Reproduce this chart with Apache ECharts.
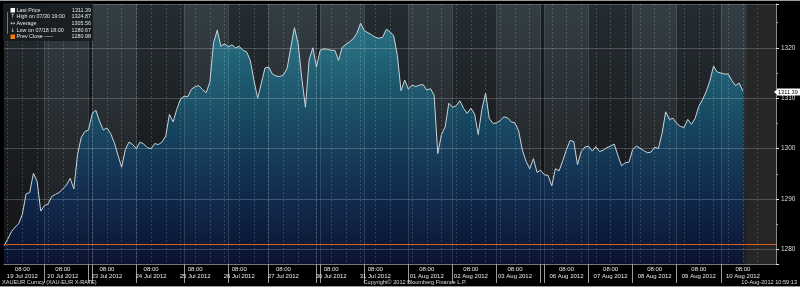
<!DOCTYPE html>
<html><head><meta charset="utf-8">
<script src="https://cdn.jsdelivr.net/npm/echarts@6/dist/echarts.min.js"></script>
<style>html,body{margin:0;padding:0;background:#000;}#c{width:800px;height:287px;}</style>
</head><body><div id="c"></div><script>
// XAUEUR, 2-hour steps
const prices = [
1280.7,1282.0,1283.5,1284.4,1285.1,1287.0,1291.0,1291.3,1295.1,1293.5,
1287.6,1288.7,1289.0,1290.5,1290.9,1291.3,1292.0,1292.8,1294.1,1292.0,
1298.8,1302.2,1303.4,1303.7,1307.0,1307.6,1305.4,1303.7,1304.1,1303.0,
1301.2,1298.7,1296.3,1299.8,1301.3,1300.8,1300.0,1301.3,1300.9,1300.2,
1300.0,1301.0,1300.8,1301.3,1302.5,1306.8,1305.3,1307.8,1309.8,1310.4,
1310.3,1311.8,1312.3,1312.5,1311.7,1311.1,1313.2,1321.0,1323.5,1320.3,
1320.8,1320.2,1320.6,1320.0,1320.3,1319.5,1319.2,1317.5,1313.5,1310.0,
1313.0,1316.0,1316.2,1314.8,1314.4,1314.3,1314.6,1315.9,1320.0,1324.0,
1320.9,1314.0,1308.2,1317.6,1320.0,1316.2,1319.5,1319.8,1319.7,1319.5,
1319.5,1317.5,1320.1,1320.7,1321.2,1321.8,1322.9,1324.87,1323.4,1323.0,
1322.6,1322.1,1321.9,1322.1,1323.7,1323.2,1322.4,1318.5,1311.5,1313.6,
1311.8,1312.6,1312.3,1312.6,1312.7,1311.6,1311.9,1310.6,1299.0,1302.8,
1304.3,1309.0,1308.2,1308.5,1309.5,1308.0,1307.0,1308.0,1306.9,1302.8,
1307.8,1311.0,1306.0,1305.0,1305.1,1305.6,1306.3,1306.1,1305.3,1305.1,
1303.5,1299.7,1297.5,1296.0,1298.0,1295.3,1295.7,1294.8,1294.7,1292.6,
1296.0,1295.6,1297.6,1299.8,1301.6,1301.4,1296.8,1299.4,1300.3,1300.5,
1299.5,1300.4,1299.4,1299.7,1300.2,1300.5,1300.9,1298.6,1296.6,1297.2,
1297.3,1299.8,1300.5,1300.1,1299.6,1299.2,1299.3,1300.3,1300.0,1303.0,
1307.3,1305.8,1306.0,1305.0,1304.4,1304.2,1305.8,1304.8,1306.0,1308.4,
1309.7,1311.3,1313.4,1316.4,1315.2,1315.0,1314.8,1314.8,1313.5,1312.5,
1313.0,1311.39
];
const slotCount = 211;
const dayLabels = ['19 Jul 2012','20 Jul 2012','23 Jul 2012','24 Jul 2012','25 Jul 2012','26 Jul 2012','27 Jul 2012','30 Jul 2012','31 Jul 2012','01 Aug 2012','02 Aug 2012','03 Aug 2012','06 Aug 2012','07 Aug 2012','08 Aug 2012','09 Aug 2012','10 Aug 2012'];
const dayLabelIdx = [5,16,28,40,52,64,76,89,101,115,127,139,153,165,177,189,201];
const timeLabel = '08:00';
const daySepIdx = [11,23,24,36,49,61,72,85,86,98,110,122,134,146,147,159,171,183,195];
const shadedDays = [[0,11],[36,49],[61,72],[98,110],[122,134],[159,171],[183,195]];
const weekendGaps = [[23,24],[85,86],[146,147]];
const prevClose = 1280.98;
const lastPrice = 1311.39;
const legendNames = ['Last Price','High on 07/30 19:00','Average','Low on 07/18 18:00','Prev Close -----'];
const legendValues = ['1311.39','1324.87','1305.56','1280.67','1280.98'];
const legendIcons = ['','\u2191','\u2194','\u2193',''];
const footerLeft = 'XAUEUR Curncy (XAU-EUR X-RATE)';
const footerMid = 'Copyright\u00a9 2012 Bloomberg Finance L.P.';
const footerRight = '10-Aug-2012 10:59:13';

const categories = Array.from({length: slotCount}, (_, i) => String(i));
const labelMap = new Map(dayLabelIdx.map((ix, k) => [ix, dayLabels[k]]));
const sepSet = new Set(daySepIdx);
const gridSet = new Set();
dayLabelIdx.forEach(ix => { gridSet.add(ix - 4); gridSet.add(ix); gridSet.add(ix + 4); });

const chart = echarts.init(document.getElementById('c'), null, {renderer: 'canvas'});
const G = echarts.graphic;
const FONT = '"Liberation Sans", Arial, sans-serif';

const legendEls = [
  {type:'rect', x:3, y:3, shape:{width:90, height:38}, style:{fill:'rgba(22,26,30,0.88)'}, z:100},
  {type:'line', shape:{x1:7.5, y1:12, x2:7.5, y2:34}, style:{stroke:'#777', lineWidth:1}, z:101},
  {type:'rect', x:10.5, y:8, shape:{width:4.5, height:4.5}, style:{fill:'#ffffff'}, z:101},
  {type:'rect', x:10.5, y:34.5, shape:{width:4.5, height:4.5}, style:{fill:'#f07d10'}, z:101}
];
legendNames.forEach((n, r) => {
  const y = 10.3 + r * 6.6;
  legendEls.push({type:'text', x:16.5, y:y, z:101, style:{text:n, fill:'#dfe4e8', font:'5.4px ' + FONT, textVerticalAlign:'middle'}});
  legendEls.push({type:'text', x:91, y:y, z:101, style:{text:legendValues[r], fill:'#dfe4e8', font:'5.4px ' + FONT, textAlign:'right', textVerticalAlign:'middle'}});
  if (legendIcons[r]) legendEls.push({type:'text', x:12.7, y:y, z:101, style:{text:legendIcons[r], fill:'#cfd4d8', font:'6px "DejaVu Sans"', textAlign:'center', textVerticalAlign:'middle'}});
});
const footerEls = [
  {type:'text', x:2, y:282, z:101, style:{text:footerLeft, fill:'#dddddd', font:'5.6px ' + FONT, textVerticalAlign:'middle'}},
  {type:'text', x:415, y:282, z:101, style:{text:footerMid, fill:'#dddddd', font:'5.6px ' + FONT, textAlign:'center', textVerticalAlign:'middle'}},
  {type:'text', x:797, y:282, z:101, style:{text:footerRight, fill:'#dddddd', font:'5.6px ' + FONT, textAlign:'right', textVerticalAlign:'middle'}},
  {type:'line', shape:{x1:0, y1:0.5, x2:800, y2:0.5}, style:{stroke:'#9a9a9a', lineWidth:1}, z:101},
  {type:'line', shape:{x1:0, y1:286.5, x2:800, y2:286.5}, style:{stroke:'#9a9a9a', lineWidth:1}, z:101},
  {type:'rect', x:777, y:88.5, shape:{width:23, height:7}, style:{fill:'#ffffff'}, z:101},
  {type:'polygon', shape:{points:[[774,92],[777,89.5],[777,94.5]]}, style:{fill:'#ffffff'}, z:101},
  {type:'text', x:778, y:92.2, z:102, style:{text:lastPrice.toFixed(2), fill:'#000000', font:'5.6px ' + FONT, textVerticalAlign:'middle'}}
];

const option = {
  animation: false,
  backgroundColor: '#000',
  grid: {left:4, right:24, top:4, bottom:23, show:true, borderWidth:0,
    backgroundColor: new G.LinearGradient(0,0,0,1,[
      {offset:0, color:'#333e45'},{offset:0.5, color:'#262b2f'},{offset:1, color:'#1c1d20'}])},
  xAxis: {
    type:'category', data:categories, boundaryGap:false, z:3,
    axisLine:{show:true, lineStyle:{color:'#777'}},
    axisTick:{show:true, interval:(i)=>sepSet.has(i), length:19, lineStyle:{color:'#9a9a9a'}},
    axisLabel:{interval:(i)=>labelMap.has(i), formatter:(v,i)=> labelMap.has(i) ? timeLabel + '\n' + labelMap.get(i) : '',
      color:'#e8e8e8', fontSize:6, lineHeight:7, margin:2, fontFamily:FONT},
    splitLine:{show:true, interval:(i)=>gridSet.has(i), lineStyle:{color:'rgba(255,255,255,0.16)', type:[2,2]}}
  },
  yAxis: {
    type:'value', position:'right', min:1277.1, max:1328.7, splitNumber:5, z:3,
    axisLine:{show:true, lineStyle:{color:'#8a8a8a'}},
    axisTick:{show:true, length:3, lineStyle:{color:'#dddddd'}},
    minorTick:{show:true, splitNumber:2, length:2, lineStyle:{color:'#aaaaaa'}},
    axisLabel:{color:'#dddddd', fontSize:6.5, margin:5, fontFamily:FONT, showMinLabel:false, showMaxLabel:false,
      formatter:(v)=> String(Math.round(v))},
    splitLine:{show:true, lineStyle:{color:'rgba(255,255,255,0.2)'}}
  },
  series: [{
    type:'line', data:prices, symbol:'none', showSymbol:false, z:2,
    lineStyle:{color:'#c9d3da', width:1},
    areaStyle:{origin:'start', color: new G.LinearGradient(0,4,0,264,[
      {offset:0, color:'#2f9bb0'},{offset:0.4, color:'#16607f'},{offset:0.72, color:'#0c3161'},{offset:1, color:'#06103a'}], true)},
    markArea:{silent:true, itemStyle:{color:'#262627'}, data:[[{xAxis: String(prices.length)}, {xAxis: String(slotCount-1)}]]},
    markLine:{silent:true, symbol:['none','none'], animation:false,
      data:[
        {yAxis:prevClose, lineStyle:{color:'#d2641e', width:1, type:'solid'}, label:{show:false}}
      ].concat(daySepIdx.map(i => ({xAxis:String(i), lineStyle:{color:'rgba(255,255,255,0.13)', type:'solid', width:1}, label:{show:false}})))
    }
  }, {
    type:'line', data:[], z:2.5, silent:true,
    markArea:{silent:true, data:
      shadedDays.map(d => [{xAxis:String(d[0]), itemStyle:{color:'rgba(0,0,0,0.28)'}}, {xAxis:String(d[1])}])
      .concat(weekendGaps.map(d => [{xAxis:String(d[0]), itemStyle:{color:'rgba(0,0,0,0.5)'}}, {xAxis:String(d[1])}]))
    }
  }],
  graphic: legendEls.concat(footerEls)
};
chart.setOption(option);
</script></body></html>
